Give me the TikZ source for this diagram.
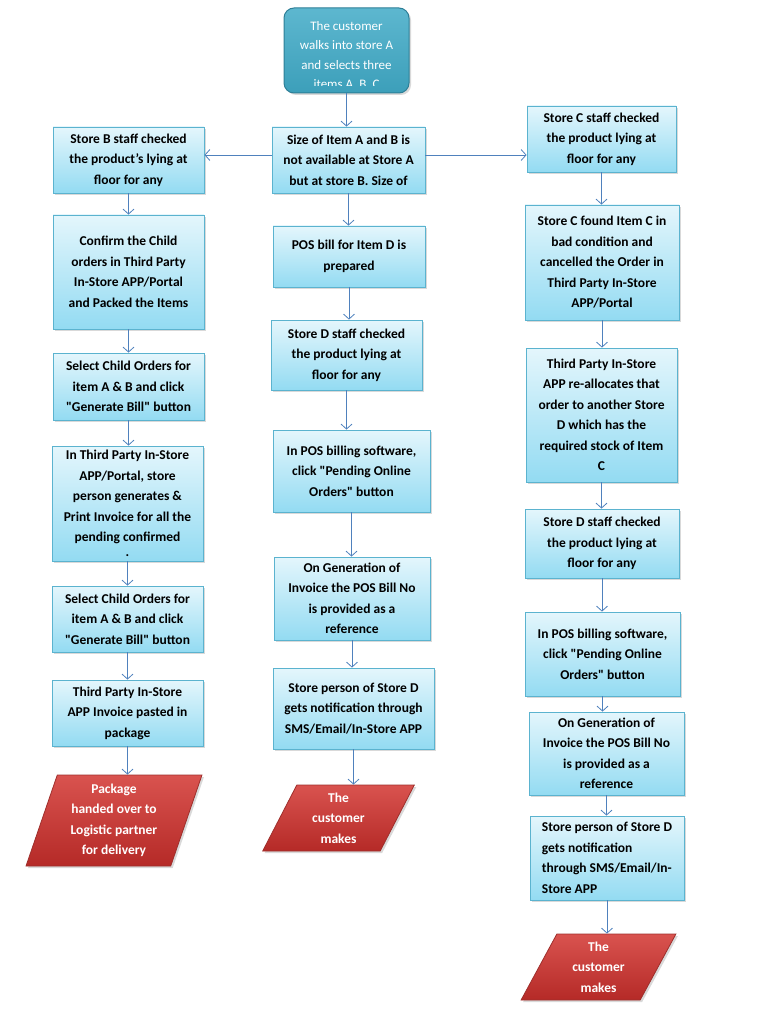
\documentclass[tikz,border=0pt]{standalone}
\usepackage{fontspec}
\setmainfont{Carlito}
\usetikzlibrary{arrows.meta,shapes.geometric,shadows}
\newcommand\qd{\textquotedbl}
\definecolor{boxtop}{HTML}{E4F6FC}
\definecolor{boxbot}{HTML}{93DBF2}
\definecolor{boxline}{HTML}{5BB3CF}
\definecolor{arrcol}{HTML}{4F81BD}
\definecolor{tealtop}{HTML}{5DB7CF}
\definecolor{tealbot}{HTML}{3C9FBA}
\definecolor{tealline}{HTML}{2E7F97}
\definecolor{redtop}{HTML}{D9534F}
\definecolor{redbot}{HTML}{B52A27}
\definecolor{redline}{HTML}{9E2F2C}
\tikzset{
  stepbox/.style={rectangle, draw=boxline, line width=0.8pt, top color=boxtop, bottom color=boxbot,
    drop shadow={shadow xshift=2pt, shadow yshift=-2pt, opacity=0.3},
    align=center, inner sep=2pt, font=\bfseries\fontsize{13.5}{20.5}\selectfont, text=black},
  endbox/.style={trapezium, trapezium stretches=true, draw=redline, line width=0.8pt,
    top color=redtop, bottom color=redbot,
    drop shadow={shadow xshift=2pt, shadow yshift=-2pt, opacity=0.3},
    align=center, inner sep=1pt, font=\bfseries\fontsize{13.5}{20.5}\selectfont, text=white},
  startbox/.style={rectangle, rounded corners=10pt, draw=tealline, line width=1pt,
    top color=tealtop, bottom color=tealbot,
    drop shadow={shadow xshift=2pt, shadow yshift=-2pt, opacity=0.3}},
  arr/.style={draw=arrcol, line width=0.8pt, -{Straight Barb[length=5pt,width=11pt]}}
}
\begin{document}
\begin{tikzpicture}[x=1pt,y=-1pt]
\useasboundingbox (0,0) rectangle (768,1024);
% start
\node[startbox, minimum width=125pt, minimum height=85pt] (S) at (346.5,50.5) {};
\begin{scope}
\clip (284,8) rectangle (409,86);
\node[anchor=north, align=center, text=white, font=\fontsize{13}{19.5}\selectfont, inner sep=0pt] (St) at (346.5,21)
  {The customer\\walks into store A\\and selects three\\items A, B, C};
\end{scope}
% left column
\node[stepbox, minimum width=151pt, minimum height=66pt] (L1) at (128.5,160)
  {Store B staff checked\\the product’s lying at\\floor for any};
\node[stepbox, minimum width=151pt, minimum height=114pt] (L2) at (128.5,272)
  {Confirm the Child\\orders in Third Party\\In-Store APP/Portal\\and Packed the Items};
\node[stepbox, minimum width=151pt, minimum height=67pt] (L3) at (128.5,386.5)
  {Select Child Orders for\\item A \& B and click\\\qd Generate Bill\qd\ button};
\node[stepbox, minimum width=151pt, minimum height=115pt] (L4) at (127.5,503.5)
  {In Third Party In-Store\\APP/Portal, store\\person generates \&\\Print Invoice for all the\\pending confirmed\\[-6pt].};
\node[stepbox, minimum width=151pt, minimum height=66pt] (L5) at (127.5,619)
  {Select Child Orders for\\item A \& B and click\\\qd Generate Bill\qd\ button};
\node[stepbox, minimum width=151pt, minimum height=66pt] (L6) at (127.5,713)
  {Third Party In-Store\\APP Invoice pasted in\\package};
\node[endbox, trapezium left angle=72, trapezium right angle=108, minimum width=176pt, minimum height=91pt] (L7) at (114,820.5)
  {Package\\handed over to\\Logistic partner\\for delivery};
% middle column
\node[stepbox, minimum width=153pt, minimum height=66pt] (M1) at (348.5,160)
  {Size of Item A and B is\\not available at Store A\\but at store B. Size of};
\node[stepbox, minimum width=152pt, minimum height=61pt] (M2) at (349,256.5)
  {POS bill for Item D is\\prepared};
\node[stepbox, minimum width=151pt, minimum height=70pt] (M3) at (346.5,355)
  {Store D staff checked\\the product lying at\\floor for any};
\node[stepbox, minimum width=157pt, minimum height=82pt] (M4) at (351.5,471)
  {In POS billing software,\\click \qd Pending Online\\Orders\qd\ button};
\node[stepbox, minimum width=156pt, minimum height=83pt] (M5) at (352,598.5)
  {On Generation of\\Invoice the POS Bill No\\is provided as a\\reference};
\node[stepbox, minimum width=161pt, minimum height=81pt] (M6) at (353.5,708.5)
  {Store person of Store D\\gets notification through\\SMS/Email/In-Store APP};
\node[endbox, trapezium left angle=67, trapezium right angle=113, minimum width=153pt, minimum height=66pt] (M7) at (338.5,818)
  {The\\customer\\makes};
% right column
\node[stepbox, minimum width=149pt, minimum height=66pt] (R1) at (601.5,139)
  {Store C staff checked\\the product lying at\\floor for any};
\node[stepbox, minimum width=154pt, minimum height=115pt] (R2) at (602,262.5)
  {Store C found Item C in\\bad condition and\\cancelled the Order in\\Third Party In-Store\\APP/Portal};
\node[stepbox, minimum width=151pt, minimum height=134pt] (R3) at (601.5,415)
  {Third Party In-Store\\APP re-allocates that\\order to another Store\\D which has the\\required stock of Item\\C};
\node[stepbox, minimum width=154pt, minimum height=69pt] (R4) at (602,543.5)
  {Store D staff checked\\the product lying at\\floor for any};
\node[stepbox, minimum width=155pt, minimum height=84pt] (R5) at (602.5,654)
  {In POS billing software,\\click \qd Pending Online\\Orders\qd\ button};
\node[stepbox, minimum width=155pt, minimum height=83pt] (R6) at (606.5,753.5)
  {On Generation of\\Invoice the POS Bill No\\is provided as a\\reference};
\node[stepbox, minimum width=154pt, minimum height=84pt, align=left] (R7) at (607,858)
  {Store person of Store D\\gets notification\\through SMS/Email/In-\\Store APP};
\node[endbox, trapezium left angle=66, trapezium right angle=114, minimum width=155pt, minimum height=66pt] (R8) at (598.5,967)
  {The\\customer\\makes};
% connectors
\draw[arr] (S.south) -- (S.south |- M1.north);
\draw[arr] ([yshift=5pt]M1.west) -- ([yshift=5pt]M1.west -| L1.east);
\draw[arr] ([yshift=5pt]M1.east) -- ([yshift=5pt]M1.east -| R1.west);
\foreach \a/\b in {L1/L2,L2/L3,L3/L4,L4/L5,L5/L6,M1/M2,M2/M3,M3/M4,M4/M5,M5/M6,R1/R2,R2/R3,R3/R4,R4/R5,R5/R6,R6/R7}
  \draw[arr] (\a.south) -- (\a.south |- \b.north);
\draw[arr] (L6.south) -- (L6.south |- L7.north);
\draw[arr] (M6.south) -- (M6.south |- M7.north);
\draw[arr] (R7.south) -- (R7.south |- R8.north);
\end{tikzpicture}
\end{document}
